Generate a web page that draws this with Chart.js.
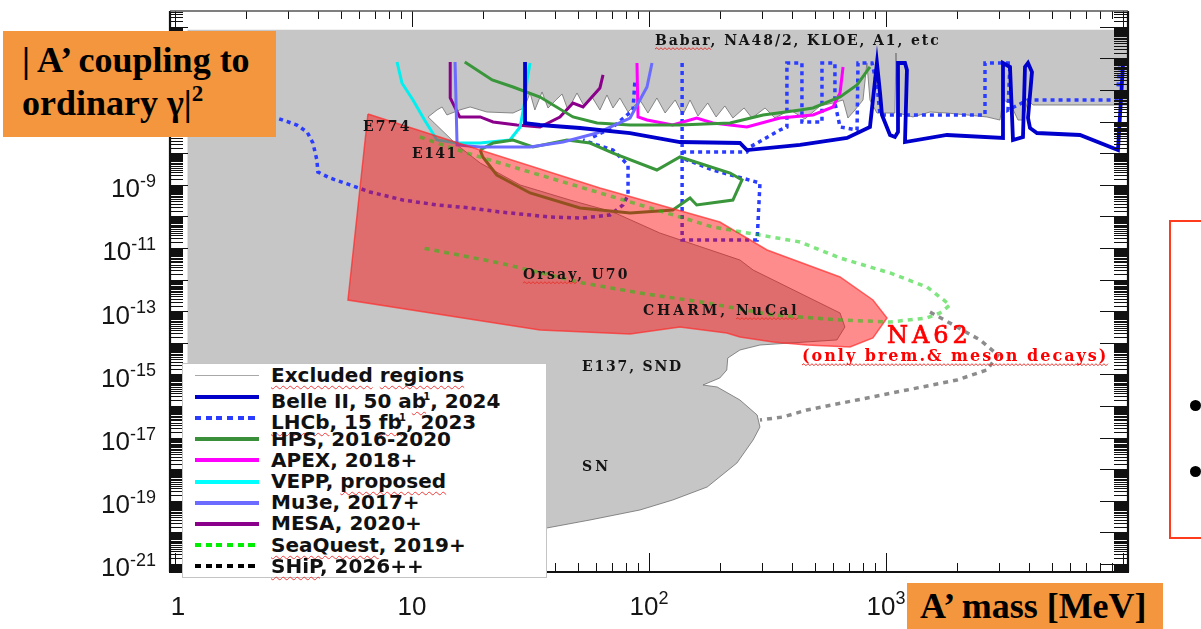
<!DOCTYPE html>
<html>
<head>
<meta charset="utf-8">
<title>A' coupling vs mass</title>
<script src="https://cdn.jsdelivr.net/npm/chart.js@4.4.1/dist/chart.umd.min.js"></script>
<style>
  html, body { margin: 0; padding: 0; background: #fff; }
  #wrap { position: relative; width: 1201px; height: 629px; overflow: hidden; }
  #plot { position: absolute; left: 0; top: 0; }
  .tag { position: absolute; background: #f4963e; color: #000;
         font-family: "Liberation Serif", "Times New Roman", serif; font-weight: bold; }
  #ytag { left: 3px; top: 31px; width: 254px; height: 98px; padding: 8px 0 0 19px; font-size: 36px; line-height: 43px; white-space: nowrap; }
  #xtag { left: 907px; top: 583px; width: 243px; height: 46px; padding-left: 13px; font-size: 36px; line-height: 46px; white-space: nowrap; }
  #legend { position: absolute; left: 182px; top: 363px; width: 363px; height: 213px; background: #fff;
            border: 1.5px solid #c4c4c4; font-family: "DejaVu Sans", sans-serif; font-weight: bold; font-size: 20px; color: #111; }
  .row { position: absolute; left: 0; width: 360px; height: 21px; line-height: 21px; white-space: nowrap; }
  .swatch { position: absolute; left: 12px; width: 64px; }
  .name { position: absolute; left: 88px; top: 0; }
  .sq { text-decoration: underline wavy #f03a3a; text-decoration-thickness: 1px; text-underline-offset: 3px; text-decoration-skip-ink: none; }
  .ov { font-size: 10px; margin-left: -7px; vertical-align: 8px; }
  #box { position: absolute; left: 1169px; top: 220px; width: 60px; height: 315px; border: 2px solid #ff3b1e; }
  .dot { position: absolute; width: 11px; height: 11px; border-radius: 50%; background: #000; }
</style>
</head>
<body>
<div id="wrap">
  <canvas id="plot" width="1201" height="629"></canvas>
  <div id="legend"></div>
  <div class="tag" id="ytag">| A’ coupling to<br>ordinary γ|<sup style="font-size:23px;vertical-align:14px;line-height:0">2</sup></div>
  <div class="tag" id="xtag">A’ mass [MeV]</div>
  <div id="box"></div>
  <div class="dot" style="left:1190px;top:400px"></div>
  <div class="dot" style="left:1190px;top:466px"></div>
</div>
<script>
// ── Data (mass in MeV, coupling |eps|^2) ─────────────────────────────────────

const excludedMass = [1.13, 10500, 10500, 1.13, 1.13];
const excludedCoupling = [8e-5, 8e-5, 5.6e-22, 5.6e-22, 8e-5];

// open window between the beam-dump limits and the prompt searches
const allowedMass = [11.7, 12.75, 13.4, 14.05, 15.9, 17.6, 20.7, 26.7, 29.7, 31.5,
  33.0, 35.4, 37.5, 40.5, 43.0, 45.5, 49.7, 53.2, 57.5, 62.1,
  66.5, 70.5, 75.4, 81.6, 91.6, 99, 108, 117, 129, 139,
  149, 161, 177, 192, 209, 226, 252, 272, 309, 340,
  394, 455, 527, 598, 659, 691, 740, 800, 831, 856,
  916, 1091, 1102, 1124, 1300, 1534, 1809, 2197, 2668, 3027,
  3117, 3337, 3606, 3785, 3974, 4173, 10500,
  10500, 17.6, 17.6,
  37.1, 56.4, 91.6, 126, 176, 235, 275, 294, 286, 242,
  194, 169, 199, 213, 215, 242, 294, 621, 671, 640,
  275, 242, 111, 70.5, 46.4, 28.6, 19.4, 15.5, 11.7];
const allowedCoupling = [1.40e-7, 2.33e-7, 2.90e-7, 1.62e-7, 2.33e-7, 2.90e-7, 2.01e-7, 1.87e-7, 2.69e-7, 8.04e-7,
  2.33e-7, 8.65e-7, 2.69e-7, 4.83e-7, 7.46e-7, 2.33e-7, 8.04e-7, 3.12e-7, 6.0e-7, 2.33e-7,
  6.95e-7, 2.69e-7, 5.58e-7, 2.01e-7, 4.83e-7, 1.87e-7, 5.58e-7, 1.87e-7, 4.83e-7, 1.62e-7,
  4.83e-7, 1.50e-7, 3.88e-7, 1.40e-7, 3.12e-7, 1.30e-7, 2.69e-7, 1.30e-7, 2.69e-7, 1.30e-7,
  2.33e-7, 1.21e-7, 3.12e-7, 3.88e-7, 4.83e-7, 1.30e-7, 2.33e-7, 4.83e-7, 7.14e-6, 4.83e-7,
  1.87e-7, 1.87e-7, 1.48e-5, 1.87e-7, 1.40e-7, 2.01e-7, 1.87e-7, 1.62e-7, 1.40e-7, 1.12e-7,
  4.83e-7, 3.88e-7, 1.12e-7, 1.12e-7, 4.83e-7, 3.35e-7, 3.35e-7,
  5.6e-22, 5.6e-22, 3.99e-21,
  1.38e-20, 2.47e-20, 5.12e-20, 1.06e-19, 2.73e-19, 1.57e-18, 8.39e-18, 2.16e-17, 5.19e-17, 1.55e-16,
  3.99e-16, 4.62e-16, 7.69e-16, 1.38e-15, 3.30e-15, 5.92e-15, 8.51e-15, 1.23e-14, 3.16e-14, 8.77e-14,
  2.01e-12, 4.17e-12, 2.99e-11, 1.38e-10, 3.30e-10, 9.87e-10, 4.90e-9, 1.82e-8, 1.40e-7];

const na62Mass = [6.52, 19.4, 62.1, 199, 315, 640, 881, 1010, 881, 705, 464, 334, 242, 213, 135, 83.2, 34.7, 5.37, 6.52];
const na62Coupling = [1.74e-7, 1.26e-8, 7.92e-10, 6.65e-11, 8.64e-12, 1.21e-12, 2.26e-13, 6.10e-14, 1.42e-14, 7.36e-15,
  8.51e-15, 1.06e-14, 1.53e-14, 2.04e-14, 3.16e-14, 1.90e-14, 2.54e-14, 2.26e-13, 1.74e-7];

const belleMass = [30.0, 30.0, 34.7, 51.2, 83.2, 135, 242, 259, 434, 685, 856, 916, 944, 962, 1040, 1091, 1124, 1124,
  1203, 1226, 1203, 1809, 3117, 3117, 3337, 3435, 3785, 3860, 3974, 4131, 3974, 4052, 4337, 6585, 9526, 10000];
const belleCoupling = [7.69e-6, 9.0e-8, 7.8e-8, 6.27e-8, 4.35e-8, 2.26e-8, 2.10e-8, 1.26e-8, 1.82e-8, 3.03e-8, 6.74e-8,
  7.14e-6, 8.04e-7, 1.62e-7, 3.77e-8, 3.26e-8, 4.69e-8, 7.14e-6, 7.14e-6, 4.30e-6, 2.26e-8, 3.77e-8, 3.03e-8, 7.14e-6,
  5.35e-6, 2.62e-8, 3.26e-8, 5.35e-6, 7.14e-6, 3.72e-6, 1.30e-7, 6.27e-8, 4.35e-8, 3.77e-8, 1.26e-8, 6.18e-6];

const lhcbDispMass = [1.275, 2.69, 3.27, 3.61, 3.82, 3.97, 4.01, 4.51, 5.48, 6.65, 9.16, 12.75, 17.6, 23.5, 38.2,
  52.7, 68.5, 77.7, 81.6, 81.6, 70.5, 60.4, 52.7];
const lhcbDispCoupling = [2.69e-7, 1.30e-7, 7.8e-8, 4.69e-8, 2.10e-8, 6.10e-9, 2.54e-9, 1.64e-9, 9.87e-10, 5.92e-10,
  3.30e-10, 2.30e-10, 1.85e-10, 1.38e-10, 9.57e-11, 8.89e-11, 1.11e-10, 2.30e-10, 4.75e-10, 4.24e-9, 1.26e-8, 1.82e-8, 2.62e-8];

// null entries split the prompt curve into its separate pieces
const lhcbPromptMass = [58.1, 70.5, 85.6, 87.3, null, 138, 138, 286, 294, 186, 138, null,
  138, 259, 267, 357, 382, 382, 442, 442, 537, 537, 609, 609, 640, 755, 762, 873, 916, 944,
  2617, 2617, 3337, 3272, 3974, 9435, 9712];
const lhcbPromptCoupling = [3.26e-8, 6.74e-8, 2.33e-7, 2.07e-6, null, 7.14e-6, 1.79e-11, 1.79e-11, 1.14e-9, 2.94e-9, 7.05e-9, null,
  1.09e-8, 1.09e-8, 1.57e-8, 5.42e-8, 6.74e-8, 7.14e-6, 7.14e-6, 9.7e-8, 9.7e-8, 7.14e-6, 7.14e-6, 3.88e-7, 6.74e-8,
  5.42e-8, 7.14e-6, 7.14e-6, 1.44e-6, 1.62e-7, 1.62e-7, 7.14e-6, 7.14e-6, 2.33e-7, 4.83e-7, 4.83e-7, 7.14e-6];

const hpsMass = [16.7, 21.8, 26.7, 34.7, 47.8, 60.4, 83.2, 135, 220, 303, 434, 492, 640, 755, 856];
const hpsCoupling = [7.69e-6, 2.07e-6, 1.24e-6, 6.0e-7, 1.40e-7, 9.0e-8, 7.8e-8, 7.8e-8, 9.0e-8, 1.62e-7, 2.33e-7,
  2.69e-7, 6.0e-7, 1.44e-6, 5.35e-6];
const hpsLoopMass = [19.4, 22.0, 26.7, 32.4, 45.1, 56.4, 70.5, 108, 135, 220, 247, 226, 159, 149, 126, 83.2, 51.2,
  31.5, 22.8, 19.9, 19.4];
const hpsLoopCoupling = [1.26e-8, 2.10e-8, 2.62e-8, 1.57e-8, 2.62e-8, 2.10e-8, 1.01e-8, 2.94e-9, 7.59e-9, 2.36e-9,
  1.42e-9, 3.30e-10, 2.30e-10, 3.82e-10, 1.60e-10, 1.28e-10, 1.85e-10, 5.51e-10, 2.04e-9, 7.59e-9, 1.26e-8];

const apexMass = [89.0, 89.9, 98.1, 126, 159, 186, 259, 357, 492, 598, 640, 659];
const apexCoupling = [7.14e-6, 1.40e-7, 1.12e-7, 7.8e-8, 1.30e-7, 9.0e-8, 6.74e-8, 1.30e-7, 1.62e-7, 2.90e-7, 8.04e-7, 5.35e-6];

const veppMass = [8.65, 9.07, 10.1, 11.3, 12.75, 15.5, 19.4, 25.9, 28.6, 30.0, 30.6, 31.5];
const veppCoupling = [7.69e-6, 1.67e-6, 4.83e-7, 1.12e-7, 2.62e-8, 2.10e-8, 2.10e-8, 2.62e-8, 6.74e-8, 4.83e-7, 2.07e-6, 7.14e-6];

const mu3eMass = [15.2, 15.5, 19.4, 31.5, 43.4, 60.4, 83.2, 98.1, 103];
const mu3eCoupling = [7.69e-6, 1.82e-8, 1.57e-8, 1.57e-8, 2.26e-8, 4.35e-8, 1.30e-7, 1.24e-6, 7.14e-6];

const mesaMass = [14.5, 14.5, 15.9, 19.4, 22.0, 27.7, 34.7, 42.1, 47.8, 52.7, 62.1, 64.0];
const mesaCoupling = [7.69e-6, 5.58e-7, 1.40e-7, 1.40e-7, 9.7e-8, 7.8e-8, 6.74e-8, 1.40e-7, 3.88e-7, 2.90e-7, 1.16e-6, 2.99e-6];

const seaquestMass = [10.8, 12.75, 17.1, 26.7, 51.2, 98.1, 186, 434, 640, 1040, 1489, 1862, 1690, 1489, 1040, 640,
  334, 176, 91.6, 52.7, 23.5, 11.1];
const seaquestCoupling = [3.26e-8, 2.10e-8, 1.01e-8, 3.66e-9, 8.51e-10, 1.98e-10, 4.62e-11, 1.55e-11, 4.83e-12, 1.62e-12,
  5.83e-13, 1.57e-13, 8.77e-14, 6.10e-14, 4.55e-14, 5.27e-14, 7.59e-14, 1.82e-13, 3.77e-13, 7.8e-13, 3.35e-12, 1.0e-11];

const shipMass = [1534, 1994, 2493, 2969, 2668, 1994, 1226, 755, 464, 368, 294];
const shipCoupling = [9.44e-14, 3.16e-14, 1.23e-14, 4.11e-15, 1.38e-15, 6.65e-16, 3.21e-16, 1.55e-16, 7.47e-17, 4.49e-17, 3.61e-17];

// ── Text in the plot ─────────────────────────────────────────────────────────

const labelText = ['Babar, NA48/2, KLOE, A1, etc', 'E774', 'E141', 'Orsay, U70', 'CHARM, NuCal',
  'E137, SND', 'SN', 'NA62', '(only brem.& meson decays)'];
const labelMass = [106, 6.21, 10.0, 29.4, 94.3, 52.2, 52.2, 1010, 442];
const labelCoupling = [2.65e-5, 5.05e-8, 7.05e-9, 1.04e-12, 7.59e-14, 1.28e-15, 8.77e-19, 9.86e-15, 2.65e-15];

const yLabelExp = [-9, -11, -13, -15, -17, -19, -21];
const xLabelExp = [0, 1, 2, 3];

const legendRows = [
  { html: '<span class="sq">Excluded</span> <span class="sq">regions</span>', color: '#a8a8a8', width: 1.5 },
  { html: 'Belle II, 50 a<span class="sq">b</span><span class="ov">-1</span>, 2024', color: '#0000c8', width: 4 },
  { html: '<span class="sq">LHCb</span>, 15 <span class="sq">fb</span><span class="ov">-1</span>, 2023', color: '#2a3cff', width: 4, dotted: true },
  { html: 'HPS, 2016-2020', color: '#3a8f3a', width: 4 },
  { html: 'APEX, 2018+', color: '#ff00ff', width: 4 },
  { html: 'VEPP, <span class="sq">proposed</span>', color: '#00ffff', width: 4 },
  { html: 'Mu3e, 2017+', color: '#6b6bff', width: 4 },
  { html: 'MESA, 2020+', color: '#8b008b', width: 4 },
  { html: '<span class="sq">SeaQuest</span>, 2019+', color: '#00ee00', width: 4, dotted: true },
  { html: '<span class="sq">SHiP</span>, 2026++', color: '#000000', width: 4, dotted: true },
];

// ── Styles ───────────────────────────────────────────────────────────────────

const labelFont = 'bold 14px "DejaVu Serif"';
const labelStyle = [
  { font: labelFont, spacing: '1.9px', color: '#141414', squiggle: [0, 5] },
  { font: labelFont, spacing: '2.2px', color: '#141414' },
  { font: labelFont, spacing: '1.5px', color: '#141414' },
  { font: labelFont, spacing: '2.2px', color: '#141414', squiggle: [0, 5] },
  { font: labelFont, spacing: '3px', color: '#141414', squiggle: [7, 12] },
  { font: labelFont, spacing: '1.8px', color: '#141414' },
  { font: labelFont, spacing: '3px', color: '#141414' },
  { font: '24px "DejaVu Serif"', spacing: '4px', color: '#ff0000', thicken: 0.7 },
  { font: 'bold 16px "DejaVu Serif"', spacing: '2px', color: '#ff0000', squiggle: [0, 26] },
];

const yTickSteps = [1, 1.5, 2, 2.5, 3, 3.5, 4, 4.5, 5, 5.5, 6, 6.5, 7, 7.5, 8, 8.5, 9, 9.5];
const xTickSteps = [1, 2, 3, 4, 5, 6, 7, 8, 9];

// ── Helpers ──────────────────────────────────────────────────────────────────

function series(mass, coupling) {
  return mass.map((m, i) => ({ x: m, y: coupling[i] }));
}

function curve(label, mass, coupling, color, width, dash, order) {
  return {
    label, data: series(mass, coupling), borderColor: color, borderWidth: width,
    borderDash: dash || [], fill: false, order,
  };
}

function region(label, mass, coupling, fillColor, edgeColor, edgeWidth, order) {
  return {
    label, data: series(mass, coupling), fill: 'shape', backgroundColor: fillColor,
    borderColor: edgeColor, borderWidth: edgeWidth, order,
  };
}

function squiggle(ctx, x0, x1, y) {
  ctx.save();
  ctx.strokeStyle = '#e8322c';
  ctx.lineWidth = 1;
  ctx.beginPath();
  let up = true;
  ctx.moveTo(x0, y);
  for (let px = x0 + 2; px <= x1; px += 2) {
    ctx.lineTo(px, up ? y - 1.3 : y + 0.7);
    up = !up;
  }
  ctx.stroke();
  ctx.restore();
}

// ── Axis frame, ticks and tick labels (ROOT look) ───────────────────────────

const axisFrame = {
  id: 'axisFrame',
  afterDatasetsDraw(chart) {
    const { ctx, chartArea: a, scales: { x, y } } = chart;
    const seg = (x0, y0, x1, y1) => { ctx.beginPath(); ctx.moveTo(x0, y0); ctx.lineTo(x1, y1); ctx.stroke(); };
    ctx.save();
    ctx.strokeStyle = '#111';
    ctx.lineWidth = 1;

    for (let e = -22; e <= -3; e++) {
      yTickSteps.forEach(m => {
        const v = m * Math.pow(10, e);
        if (v < y.min || v > y.max) return;
        const p = Math.round(y.getPixelForValue(v)) + 0.5;
        const big = m === 1;
        seg(a.left, p, a.left + (big ? 18 : 13), p);
        seg(a.right, p, a.right - (big ? 28 : 14), p);
      });
    }
    for (let e = 0; e <= 4; e++) {
      xTickSteps.forEach(m => {
        const v = m * Math.pow(10, e);
        if (v < x.min || v > x.max) return;
        const p = Math.round(x.getPixelForValue(v)) + 0.5;
        const big = m === 1;
        seg(p, a.top, p, a.top + (big ? 16 : 8));
        seg(p, a.bottom, p, a.bottom - (big ? 19 : 9));
      });
    }

    ctx.lineWidth = 2.2;
    seg(a.left, a.top, a.left, a.bottom);
    seg(a.right, a.top, a.right, a.bottom);
    seg(a.left - 1, a.bottom, a.right + 1, a.bottom);
    ctx.strokeStyle = '#555';
    ctx.lineWidth = 1.5;
    seg(a.left, a.top, a.right, a.top);

    ctx.fillStyle = '#151515';
    ctx.textBaseline = 'alphabetic';
    ctx.textAlign = 'left';
    const baseFont = '26px "Liberation Sans"';
    const supFont = '18px "Liberation Sans"';

    yLabelExp.forEach(e => {
      const py = y.getPixelForValue(Math.pow(10, e));
      const exp = String(e);
      ctx.font = supFont;
      const we = ctx.measureText(exp).width;
      ctx.font = baseFont;
      const wb = ctx.measureText('10').width;
      const xEnd = a.left - 14;
      ctx.fillText('10', xEnd - we - wb, py + 12.5);
      ctx.font = supFont;
      ctx.fillText(exp, xEnd - we, py + 2);
    });

    xLabelExp.forEach(e => {
      const px = x.getPixelForValue(Math.pow(10, e));
      const base = e === 0 ? '1' : '10';
      const exp = e >= 2 ? String(e) : '';
      ctx.font = baseFont;
      const wb = ctx.measureText(base).width;
      ctx.font = supFont;
      const we = exp ? ctx.measureText(exp).width : 0;
      const x0 = px - (wb + we) / 2 + (e === 0 ? 3 : 0);
      ctx.font = baseFont;
      ctx.fillText(base, x0, 615);
      if (exp) {
        ctx.font = supFont;
        ctx.fillText(exp, x0 + wb, 604);
      }
    });
    ctx.restore();
  }
};

const plotLabels = {
  id: 'plotLabels',
  afterDatasetsDraw(chart) {
    const { ctx, scales: { x, y } } = chart;
    ctx.save();
    ctx.textBaseline = 'alphabetic';
    ctx.textAlign = 'left';
    labelText.forEach((t, i) => {
      const st = labelStyle[i];
      ctx.font = st.font;
      ctx.letterSpacing = st.spacing;
      ctx.fillStyle = st.color;
      const px = x.getPixelForValue(labelMass[i]);
      const py = y.getPixelForValue(labelCoupling[i]);
      ctx.fillText(t, px, py);
      if (st.thicken) {
        ctx.strokeStyle = st.color;
        ctx.lineWidth = st.thicken;
        ctx.strokeText(t, px, py);
      }
      if (st.squiggle) {
        const x0 = px + ctx.measureText(t.slice(0, st.squiggle[0])).width;
        const x1 = px + ctx.measureText(t.slice(0, st.squiggle[1])).width;
        squiggle(ctx, x0, x1, py + 4);
      }
    });
    ctx.restore();
  }
};

// ── Chart ────────────────────────────────────────────────────────────────────

const datasets = [
  region('Excluded regions', excludedMass, excludedCoupling, '#c6c6c6', 'transparent', 0, 100),
  region('allowed', allowedMass, allowedCoupling, '#ffffff', '#6e6e6e', 0.8, 90),
  curve('LHCb displaced', lhcbDispMass, lhcbDispCoupling, '#2a3cff', 3.5, [4, 4], 60),
  curve('LHCb prompt', lhcbPromptMass, lhcbPromptCoupling, '#2a3cff', 3.5, [4, 4], 60),
  curve('HPS', hpsMass, hpsCoupling, '#3a963a', 3, null, 55),
  curve('HPS displaced', hpsLoopMass, hpsLoopCoupling, '#3a963a', 3, null, 55),
  curve('APEX', apexMass, apexCoupling, '#ff00ff', 3, null, 55),
  curve('Mu3e', mu3eMass, mu3eCoupling, '#6b6bff', 3, null, 54),
  curve('VEPP', veppMass, veppCoupling, '#00f0f0', 3, null, 55),
  curve('MESA', mesaMass, mesaCoupling, '#8b008b', 3, null, 55),
  curve('Belle II', belleMass, belleCoupling, '#0000cc', 3.8, null, 52),
  region('NA62', na62Mass, na62Coupling, 'rgba(255,0,0,0.45)', 'rgba(255,40,40,0.7)', 1.5, 40),
  curve('SeaQuest', seaquestMass, seaquestCoupling, 'rgba(0,205,0,0.5)', 3.5, [5, 5], 30),
  curve('SHiP', shipMass, shipCoupling, 'rgba(0,0,0,0.45)', 3.5, [5, 5], 30),
];

new Chart(document.getElementById('plot'), {
  type: 'line',
  data: { datasets },
  options: {
    responsive: false,
    devicePixelRatio: 1,
    animation: false,
    events: [],
    layout: { padding: { left: 170, top: 11, right: 73, bottom: 57 } },
    elements: { point: { radius: 0 }, line: { tension: 0 } },
    scales: {
      x: { type: 'logarithmic', min: 0.953, max: 10500, display: false },
      y: { type: 'logarithmic', min: 5.58e-22, max: 3.16e-4, display: false },
    },
    plugins: { legend: { display: false }, tooltip: { enabled: false } },
  },
  plugins: [axisFrame, plotLabels],
});

// ── Legend (white box inside the frame) ──────────────────────────────────────

const legendEl = document.getElementById('legend');
legendRows.forEach((r, i) => {
  const row = document.createElement('div');
  row.className = 'row';
  row.style.top = (1 + 21.2 * i) + 'px';
  const sw = document.createElement('div');
  sw.className = 'swatch';
  sw.style.height = r.width + 'px';
  sw.style.top = (10.5 - r.width / 2) + 'px';
  sw.style.background = r.dotted
    ? `repeating-linear-gradient(90deg, ${r.color} 0 6px, transparent 6px 10.7px)`
    : r.color;
  const name = document.createElement('div');
  name.className = 'name';
  name.innerHTML = r.html;
  row.appendChild(sw);
  row.appendChild(name);
  legendEl.appendChild(row);
});
</script>
</body>
</html>
